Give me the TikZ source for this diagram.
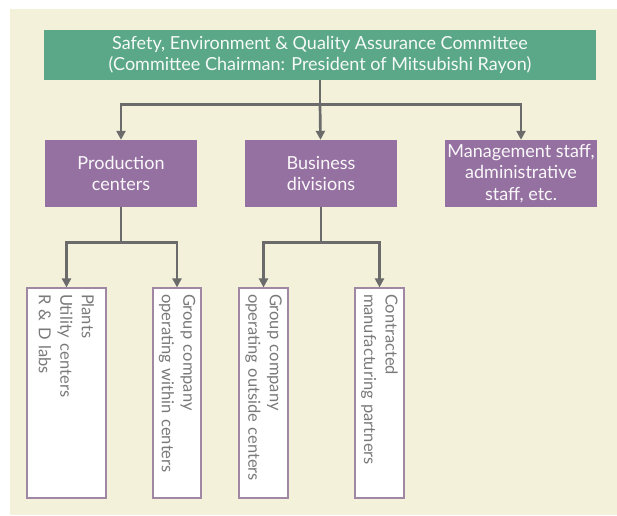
\documentclass[tikz,border=0pt]{standalone}
\usepackage{fontspec}
\setmainfont{Lato}
\usetikzlibrary{arrows.meta, positioning, calc}
\definecolor{bgbeige}{HTML}{F4F1DA}
\definecolor{cmtgreen}{HTML}{5BA888}
\definecolor{divpurple}{HTML}{9571A1}
\definecolor{linegray}{HTML}{6B6B6B}
\definecolor{edgepurple}{HTML}{A088A4}
\definecolor{txtgray}{HTML}{7A7A7A}

\begin{document}
\begin{tikzpicture}[x=1pt, y=-1pt,
  topbox/.style={fill=cmtgreen, text=white!94!cmtgreen, minimum width=552, minimum height=50, align=center, inner sep=0pt, font=\fontsize{18}{21.5}\selectfont},
  divbox/.style={fill=divpurple, text=white!94!divpurple, minimum width=152, minimum height=67, align=center, inner sep=0pt, font=\fontsize{18}{21.5}\selectfont},
  unitbox/.style={draw=edgepurple, line width=1.2pt, fill=white, text=txtgray, rotate=-90, minimum width=210, text width=198, inner xsep=6pt, inner ysep=0pt, align=left, font=\fontsize{16.5}{21.5}\selectfont},
  conn/.style={draw=linegray, line width=2.7pt},
  arr/.style={conn, -{Triangle[length=9pt, width=9pt]}}]
\useasboundingbox (0,0) rectangle (617,515);
\fill[bgbeige] (10,9) rectangle (617,515);

\node[topbox] (cmt) at (320,55) {Safety, Environment \& Quality Assurance Committee\\(Committee Chairman: President of Mitsubishi Rayon)};

\node[divbox] (prod) at (121,173.5) {Production\\centers};
\node[divbox] (biz) at (321,173.5) {Business\\divisions};
\node[divbox] (mgmt) at (521,173.5) {Management staff,\\administrative\\staff, etc.};

\node[unitbox, minimum height=79] (plants) at (66.5,393) {Plants\\Utility centers\\R \& D labs};
\node[unitbox, minimum height=48] (grpin) at (177,393) {Group company\\operating within centers};
\node[unitbox, minimum height=49] (grpout) at (263.5,393) {Group company\\operating outside centers};
\node[unitbox, minimum height=49] (partners) at (379.5,393) {Contracted\\manufacturing partners};

\draw[conn] (cmt.south) -- ++(0,24) coordinate (cmtjoin);
\draw[arr] (cmtjoin) -| (prod);
\draw[arr] (cmtjoin) -- (biz);
\draw[arr] (cmtjoin) -| (mgmt);

\draw[conn] (prod.south) -- ++(0,35) coordinate (prodjoin);
\draw[arr] (prodjoin) -| (plants);
\draw[arr] (prodjoin) -| (grpin);

\draw[conn] (biz.south) -- ++(0,35) coordinate (bizjoin);
\draw[arr] (bizjoin) -| (grpout);
\draw[arr] (bizjoin) -| (partners);
\end{tikzpicture}
\end{document}
